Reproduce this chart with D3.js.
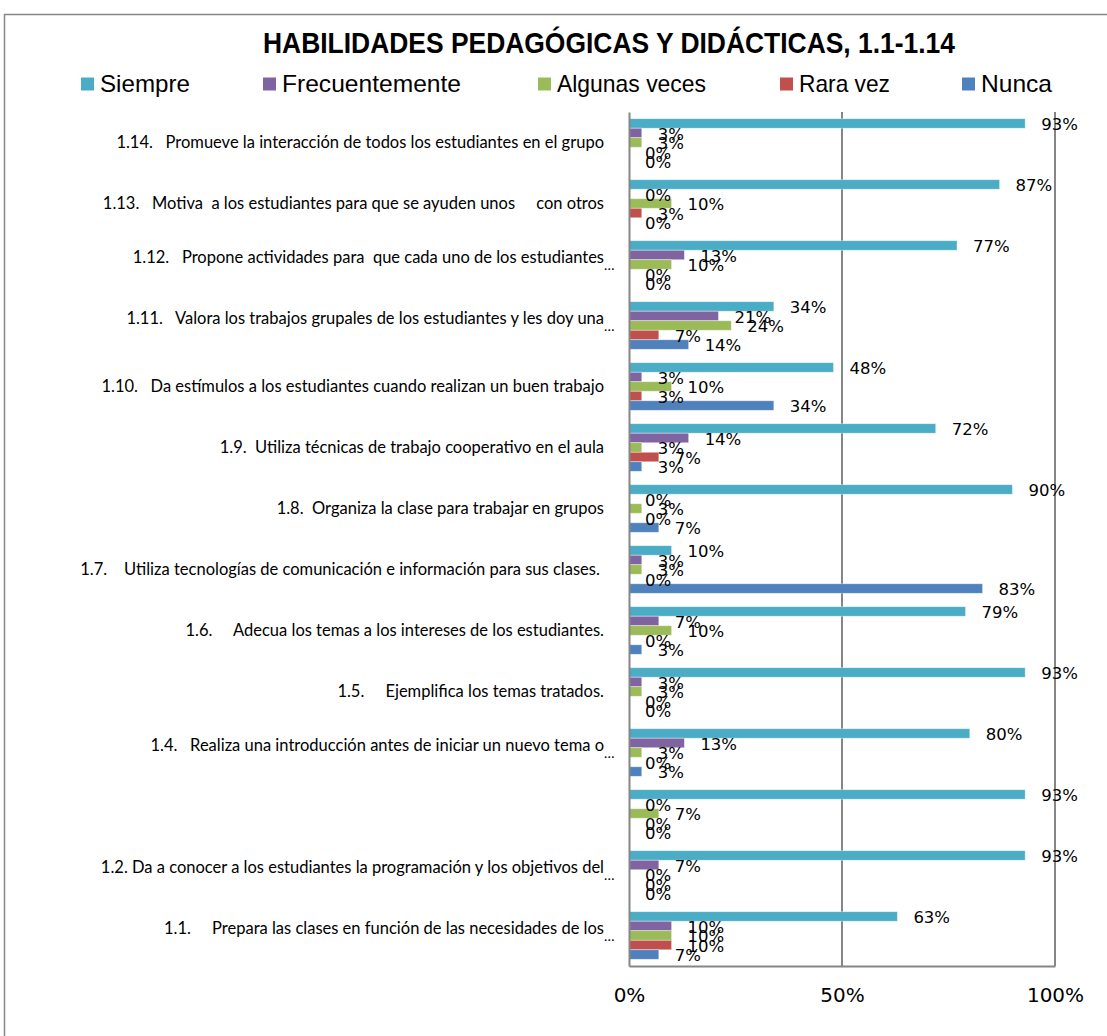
<!DOCTYPE html>
<html>
<head>
<meta charset="utf-8">
<script src="https://cdn.jsdelivr.net/npm/d3@7"></script>
<style>
  body { margin: 0; background: #fff; }
  text { white-space: pre; }
</style>
</head>
<body>
<div id="chart"></div>
<script>
// categories, bottom to top as in the sheet (1.1 first)
var categories = ["1.1", "1.2", "1.3", "1.4", "1.5", "1.6", "1.7", "1.8", "1.9", "1.10", "1.11", "1.12", "1.13", "1.14"];
var categoryLabels = [
  "1.1.     Prepara las clases en función de las necesidades de los\n…",
  "1.2. Da a conocer a los estudiantes la programación y los objetivos del\n…",
  "",
  "1.4.   Realiza una introducción antes de iniciar un nuevo tema o\n…",
  "1.5.     Ejemplifica los temas tratados.",
  "1.6.     Adecua los temas a los intereses de los estudiantes.",
  "1.7.    Utiliza tecnologías de comunicación e información para sus clases. ",
  "1.8.  Organiza la clase para trabajar en grupos",
  "1.9.  Utiliza técnicas de trabajo cooperativo en el aula",
  "1.10.   Da estímulos a los estudiantes cuando realizan un buen trabajo",
  "1.11.   Valora los trabajos grupales de los estudiantes y les doy una\n…",
  "1.12.   Propone actividades para  que cada uno de los estudiantes\n…",
  "1.13.   Motiva  a los estudiantes para que se ayuden unos     con otros",
  "1.14.   Promueve la interacción de todos los estudiantes en el grupo"
];
var seriesNames = ["Siempre", "Frecuentemente", "Algunas veces", "Rara vez", "Nunca"];
var seriesColors = ["#4BACC6", "#8064A2", "#9BBB59", "#C0504D", "#4F81BD"];

var siempre        = [63, 93, 93, 80, 93, 79, 10, 90, 72, 48, 34, 77, 87, 93];
var frecuentemente = [10,  7,  0, 13,  3,  7,  3,  0, 14,  3, 21, 13,  0,  3];
var algunasVeces   = [10,  0,  7,  3,  3, 10,  3,  3,  3, 10, 24, 10, 10,  3];
var raraVez        = [10,  0,  0,  0,  0,  0,  0,  0,  7,  3,  7,  0,  3,  0];
var nunca          = [ 7,  0,  0,  3,  0,  3, 83,  7,  3, 34, 14,  0,  0,  0];

var xTicks = [0, 50, 100];
var titleText = "HABILIDADES PEDAGÓGICAS Y DIDÁCTICAS, 1.1-1.14";

(function (d3) {
    var W = 1107, H = 1036;
    var plot = { left: 629, right: 1055, top: 112, bottom: 966 };
    var seriesValues = [siempre, frecuentemente, algunasVeces, raraVez, nunca];

    var data = [];
    categories.forEach(function (c, i) {
        seriesNames.forEach(function (s, j) {
            data.push({ cat: c, series: s, v: seriesValues[j][i], color: seriesColors[j] });
        });
    });

    var svg = d3.select("#chart").append("svg")
                .attr("width", W)
                .attr("height", H);

    // chart border (runs off the right and bottom edges like the original)
    svg.append("rect")
       .attr("x", 4.5).attr("y", 14.5)
       .attr("width", W + 20).attr("height", H + 20)
       .attr("fill", "none")
       .attr("stroke", "#868686")
       .attr("stroke-width", 1.5);

    var x = d3.scaleLinear().domain([0, 100]).range([plot.left, plot.right]);
    var y = d3.scaleBand()
              .domain(categories.slice().reverse())
              .range([plot.top, plot.bottom])
              .paddingInner(0.22)
              .paddingOuter(0.11);
    var ys = d3.scaleBand().domain(seriesNames).range([0, y.bandwidth()]);

    // gridlines
    svg.append("g")
       .selectAll("line")
       .data(xTicks.slice(1))
       .enter().append("line")
       .attr("x1", function (d) { return x(d); })
       .attr("x2", function (d) { return x(d); })
       .attr("y1", plot.top)
       .attr("y2", plot.bottom)
       .attr("stroke", "#868686")
       .attr("stroke-width", 2);

    // bars
    svg.append("g")
       .selectAll("rect")
       .data(data)
       .enter().append("rect")
       .attr("x", x(0))
       .attr("y", function (d) { return y(d.cat) + ys(d.series); })
       .attr("width", function (d) { return x(d.v) - x(0); })
       .attr("height", ys.bandwidth())
       .attr("fill", function (d) { return d.color; })
       .attr("stroke", "#ffffff")
       .attr("stroke-opacity", 0.5)
       .attr("stroke-width", 0.75);

    // value labels
    svg.append("g")
       .selectAll("text")
       .data(data)
       .enter().append("text")
       .attr("x", function (d) { return x(d.v) + 16; })
       .attr("y", function (d) { return y(d.cat) + ys(d.series) + ys.bandwidth() / 2 + 1; })
       .attr("dy", "0.35em")
       .style("font-family", "'DejaVu Sans', sans-serif")
       .style("font-size", "16.5px")
       .style("fill", "#000")
       .text(function (d) { return d.v + "%"; });

    // axes
    var xAxis = svg.append("g")
       .attr("transform", "translate(0," + plot.bottom + ")")
       .call(d3.axisBottom(x).tickValues(xTicks).tickSize(0).tickPadding(22)
               .tickFormat(function (d) { return d + "%"; }));
    xAxis.select(".domain").attr("stroke", "#868686").attr("stroke-width", 2);
    xAxis.selectAll("text")
         .style("font-family", "'DejaVu Sans', sans-serif")
         .style("font-size", "20px")
         .attr("fill", "#000");

    var yAxis = svg.append("g")
       .attr("transform", "translate(" + plot.left + ",0)")
       .call(d3.axisLeft(y).tickSize(0).tickFormat(""));
    yAxis.select(".domain").attr("stroke", "#868686").attr("stroke-width", 2);

    // category labels
    var catG = svg.append("g")
       .selectAll("g")
       .data(categories)
       .enter().append("g")
       .attr("transform", function (c) { return "translate(0," + (y(c) + y.bandwidth() / 2) + ")"; });
    catG.each(function (c, i) {
        var parts = categoryLabels[i].split("\n");
        var g = d3.select(this);
        g.append("text")
         .attr("x", 604)
         .attr("y", parts.length > 1 ? -7.5 : 0)
         .attr("dy", "0.35em")
         .attr("text-anchor", "end")
         .style("font-family", "Lato, sans-serif")
         .style("font-size", "16.5px")
         .style("fill", "#000")
         .text(parts[0]);
        if (parts.length > 1) {
            g.append("text")
             .attr("x", 604)
             .attr("y", 5.5)
             .style("font-family", "Lato, sans-serif")
             .style("font-size", "14px")
             .style("fill", "#000")
             .text(parts[1]);
        }
    });

    // title
    svg.append("text")
       .attr("x", 263)
       .attr("y", 42)
       .attr("dy", "0.35em")
       .attr("textLength", 692)
       .attr("lengthAdjust", "spacingAndGlyphs")
       .style("font-family", "'Liberation Sans', sans-serif")
       .style("font-weight", "bold")
       .style("font-size", "30px")
       .text(titleText);

    // legend
    var legendX = [81, 263, 538, 780, 962];
    var legendW = [90, 179, 149, 91, 71];
    var leg = svg.append("g")
       .selectAll("g")
       .data(seriesNames)
       .enter().append("g")
       .attr("transform", function (d, i) { return "translate(" + legendX[i] + ",84)"; });
    leg.append("rect")
       .attr("x", 0).attr("y", -6.5)
       .attr("width", 13).attr("height", 13)
       .attr("fill", function (d, i) { return seriesColors[i]; });
    leg.append("text")
       .attr("x", 19)
       .attr("y", 0)
       .attr("dy", "0.35em")
       .attr("textLength", function (d, i) { return legendW[i]; })
       .attr("lengthAdjust", "spacingAndGlyphs")
       .style("font-family", "'Liberation Sans', sans-serif")
       .style("font-size", "24px")
       .text(function (d) { return d; });
})(d3);
</script>
</body>
</html>
